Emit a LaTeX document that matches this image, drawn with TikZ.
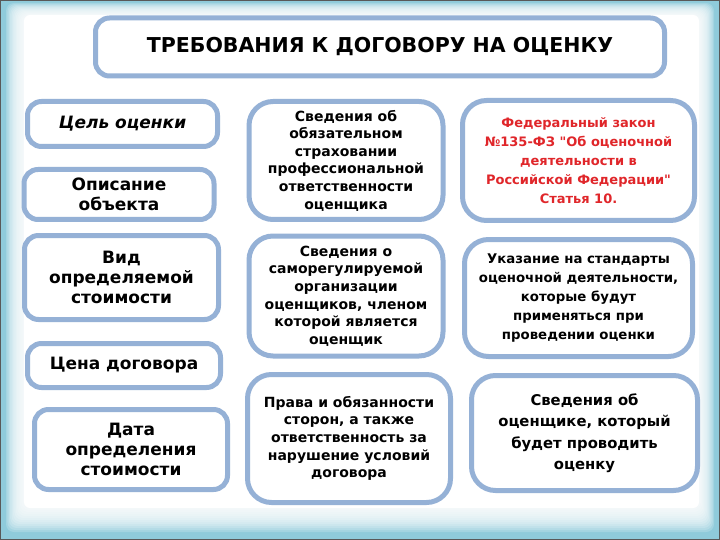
\documentclass[tikz,border=0pt]{standalone}
\usepackage{fontspec}
\setmainfont{DejaVu Sans}[Ligatures=TeXOff]
\usetikzlibrary{positioning}
\definecolor{bgblue}{HTML}{8FCBDB}
\definecolor{boxline}{HTML}{95B1D6}
\definecolor{lawred}{HTML}{E0262A}
\tikzset{
  box/.style={draw=boxline,line width=5pt,rounded corners=14pt,fill=white,align=center,font=\bfseries,inner sep=2pt},
  bigbox/.style={box,rounded corners=24pt},
  lft/.style={box,font=\bfseries\fontsize{17}{20}\selectfont},
  mid/.style={bigbox,font=\bfseries\fontsize{14}{17.6}\selectfont,minimum width=194pt},
  rgt/.style={bigbox,font=\bfseries\fontsize{13.3}{19}\selectfont}
}
\begin{document}
\begin{tikzpicture}[x=1pt,y=-1pt]
	\useasboundingbox (0,0) rectangle (720,540);
	\fill[bgblue] (0,0) rectangle (720,540);
	\draw[gray!70!black,line width=1pt] (0.5,0.5) rectangle (719.5,539.5);
	\foreach \i in {0,...,12}
		\fill[white,opacity=0.18,rounded corners=8pt] (6+1.4*\i,3+1*\i) rectangle (714-1.2*\i,532-2*\i);
	\fill[white,rounded corners=6pt] (24,15) rectangle (699,508);
	\node[box,font=\bfseries\fontsize{20.5}{24}\selectfont,minimum width=569pt,minimum height=58pt] (title) at (380,47) {ТРЕБОВАНИЯ К ДОГОВОРУ НА ОЦЕНКУ};
	\node[lft,minimum width=190pt,minimum height=45pt,font=\bfseries\itshape\fontsize{17}{20}\selectfont] (goal) at (122.5,124) {Цель оценки};
	\node[lft,minimum width=190pt,minimum height=50pt] (descr) at (119,194.5) {Описание\\объекта};
	\node[lft,minimum width=194pt,minimum height=84pt] (kind) at (121.5,277.5) {Вид\\определяемой\\стоимости};
	\node[lft,minimum width=193pt,minimum height=44pt] (price) at (124,365.5) {Цена договора};
	\node[lft,minimum width=193pt,minimum height=80pt] (date) at (131,449.5) {Дата\\определения\\стоимости};
	\node[mid,minimum height=118pt] (insur) at (346,160.5) {Сведения об\\обязательном\\страховании\\профессиональной\\ответственности\\оценщика};
	\node[mid,minimum height=120pt] (sro) at (346,296) {Сведения о\\саморегулируемой\\организации\\оценщиков, членом\\которой является\\оценщик};
	\node[mid,minimum width=203pt,minimum height=128pt] (rights) at (349,438.5) {Права и обязанности\\сторон, а также\\ответственность за\\нарушение условий\\договора};
	\node[rgt,text=lawred,font=\bfseries\fontsize{13}{19}\selectfont,minimum width=232pt,minimum height=120pt] (law) at (578.5,160.5) {Федеральный закон\\№135-ФЗ "Об оценочной\\деятельности в\\Российской Федерации"\\Статья 10.};
	\node[rgt,minimum width=228pt,minimum height=117pt] (stand) at (578.5,298) {Указание на стандарты\\оценочной деятельности,\\которые будут\\применяться при\\проведении оценки};
	\node[rgt,font=\bfseries\fontsize{14.8}{21.5}\selectfont,minimum width=226pt,minimum height=115pt] (appr) at (584.5,433) {Сведения об\\оценщике, который\\будет проводить\\оценку};
\end{tikzpicture}
\end{document}
